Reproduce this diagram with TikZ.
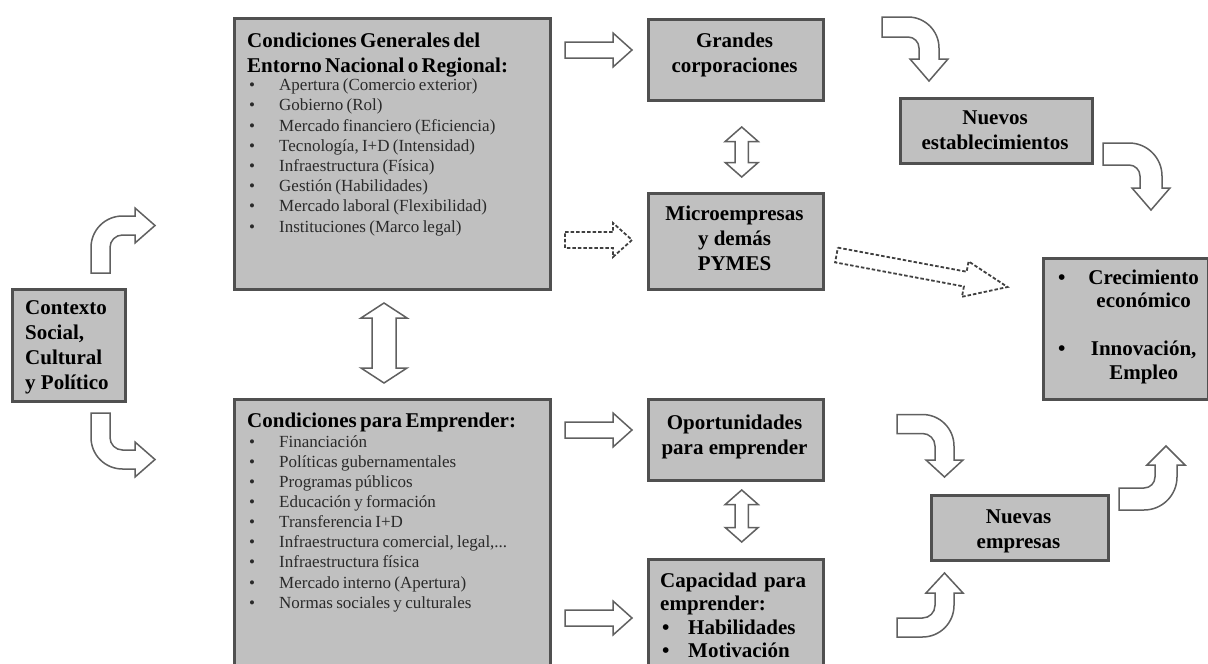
\documentclass[tikz,border=0pt]{standalone}
\usepackage{fontspec}
\setmainfont{Liberation Serif}
\usetikzlibrary{calc}
\definecolor{boxfill}{HTML}{C0C0C0}
\definecolor{boxline}{HTML}{505050}
\definecolor{arrline}{HTML}{606060}
\definecolor{dashline}{HTML}{404040}
\definecolor{itemtext}{HTML}{2A2A2A}
\newcommand\bul[1]{\makebox[#1][l]{\hspace{2pt}\textbullet}}
% #1 transform, #2 a, #3 r, #4 b, #5 h, #6 H, #7 hl
\newcommand\bentarr[7]{%
 \begin{scope}[#1]
 \draw[barrow] (0,#5) -- (#2,#5) arc[start angle=90,end angle=0,radius={#3+#5}]
   -- ({#2+#3+#5},{-#3-#4}) -- ({#2+#3+#6},{-#3-#4}) -- ({#2+#3},{-#3-#4-#7})
   -- ({#2+#3-#6},{-#3-#4}) -- ({#2+#3-#5},{-#3-#4}) -- ({#2+#3-#5},{-#3})
   arc[start angle=0,end angle=90,radius={#3-#5}] -- (0,-#5) -- cycle;
 \end{scope}}
% #1 style, #2 tail x, #3 y, #4 length
\newcommand\harr[4]{%
 \draw[#1] (#2,{#3+8}) -- ({#2+#4-19},{#3+8}) -- ({#2+#4-19},{#3+17}) -- ({#2+#4},#3)
   -- ({#2+#4-19},{#3-17}) -- ({#2+#4-19},{#3-8}) -- (#2,{#3-8}) -- cycle;}
% #1 x, #2 top tip y, #3 bottom tip y, #4 shaft half, #5 head half, #6 head length
\newcommand\vdarr[6]{%
 \draw[barrow] (#1,#2) -- ({#1+#5},{#2-#6}) -- ({#1+#4},{#2-#6}) -- ({#1+#4},{#3+#6})
   -- ({#1+#5},{#3+#6}) -- (#1,#3) -- ({#1-#5},{#3+#6}) -- ({#1-#4},{#3+#6})
   -- ({#1-#4},{#2-#6}) -- ({#1-#5},{#2-#6}) -- cycle;}
\begin{document}
\begin{tikzpicture}[x=1pt,y=1pt,
 box/.style={draw=boxline, fill=boxfill, line width=2.5pt, inner sep=0pt, anchor=north west},
 barrow/.style={draw=arrline, fill=white, line width=1.5pt, line join=miter},
 darrow/.style={draw=dashline, fill=white, line width=1.8pt, line join=miter, dash pattern=on 3.5pt off 2pt},
 ttl/.style={font=\fontsize{21}{25}\selectfont\bfseries, inner sep=0pt},
 lst/.style={inner sep=0pt, anchor=north west, align=left, text width=300pt}]
\fill[white] (0,0) rectangle (1208,-664);
\useasboundingbox (0,0) rectangle (1208,-664);

% boxes
\node[box, minimum width=113, minimum height=112] (ctx) at (11,-288) {};
\node[box, minimum width=316, minimum height=271] (gen) at (233,-17) {};
\node[box, minimum width=316, minimum height=272] (emp) at (233,-398) {};
\node[box, minimum width=175, minimum height=81] (gc) at (647,-18) {};
\node[box, minimum width=175, minimum height=96] (mic) at (647,-192) {};
\node[box, minimum width=175, minimum height=81] (opo) at (647,-398) {};
\node[box, minimum width=175, minimum height=112] (cap) at (647,-558) {};
\node[box, minimum width=192, minimum height=65] (ne) at (899,-97) {};
\node[box, minimum width=165, minimum height=141] (cre) at (1042,-257) {};
\node[box, minimum width=177, minimum height=65] (nue) at (930,-494) {};

% texts
\node[ttl, anchor=north west, align=left] (ctxt) at (25,-300.5)
  {Contexto\\Social,\\Cultural\\y Político};
\node[lst] (gent) at (247,-32.5) {%
  {\fontsize{21}{25}\selectfont\bfseries Condiciones Generales del\\Entorno Nacional o Regional:\par}
  \vspace{-1.7pt}
  {\fontsize{17}{20.2}\selectfont\color{itemtext}
  \bul{32pt}Apertura (Comercio exterior)\\
  \bul{32pt}Gobierno (Rol)\\
  \bul{32pt}Mercado financiero (Eficiencia)\\
  \bul{32pt}Tecnología, I+D (Intensidad)\\
  \bul{32pt}Infraestructura (Física)\\
  \bul{32pt}Gestión (Habilidades)\\
  \bul{32pt}Mercado laboral (Flexibilidad)\\
  \bul{32pt}Instituciones (Marco legal)\par}};
\node[lst] (empt) at (247,-412.5) {%
  {\fontsize{21}{25}\selectfont\bfseries Condiciones para Emprender:\par}
  {\fontsize{17}{20.1}\selectfont\color{itemtext}
  \bul{32pt}Financiación\\
  \bul{32pt}Políticas gubernamentales\\
  \bul{32pt}Programas públicos\\
  \bul{32pt}Educación y formación\\
  \bul{32pt}Transferencia I+D\\
  \bul{32pt}Infraestructura comercial, legal,...\\
  \bul{32pt}Infraestructura física\\
  \bul{32pt}Mercado interno (Apertura)\\
  \bul{32pt}Normas sociales y culturales\par}};
\node[ttl, anchor=north, align=center] (gct) at (734.5,-32.5) {Grandes\\corporaciones};
\node[ttl, anchor=north, align=center] (mict) at (734.5,-205.5) {Microempresas\\y demás\\PYMES};
\node[ttl, anchor=north, align=center] (opot) at (734.5,-414.5) {Oportunidades\\para emprender};
\node[lst, text width=160pt, font=\fontsize{21}{23.4}\selectfont\bfseries] (capt) at (660,-572.5)
  {Capacidad para\\emprender:\\\bul{28pt}Habilidades\\\bul{28pt}Motivación};
\node[ttl, anchor=north, align=center] (net) at (995,-110.5) {Nuevos\\establecimientos};
\node[lst, text width=150pt, font=\fontsize{21}{23.5}\selectfont\bfseries] (cret) at (1056,-269.5)
  {\bul{30pt}\makebox[115pt][c]{Crecimiento}\\\hspace*{30pt}\makebox[115pt][c]{económico}\\[24.5pt]
   \bul{30pt}\makebox[115pt][c]{Innovación,}\\\hspace*{30pt}\makebox[115pt][c]{Empleo}};
\node[ttl, anchor=north, align=center] (nuet) at (1018.5,-509.5) {Nuevas\\empresas};

% straight block arrows
\harr{barrow}{565}{-50}{67}
\harr{darrow}{565}{-240}{67}
\harr{barrow}{565}{-430}{67}
\harr{barrow}{565}{-618}{67}

% double arrows
\vdarr{741.7}{-127}{-177}{6.7}{16.5}{14.5}
\vdarr{741.7}{-490}{-542}{6.7}{16.5}{14.5}
\vdarr{384}{-303}{-383}{12}{23}{15}

% big dashed arrow
\begin{scope}[shift={(836.5,-255)}, rotate=-10.6]
 \draw[darrow] (0,7.5) -- (131,7.5) -- (131,18) -- (174,0) -- (131,-18) -- (131,-7.5) -- (0,-7.5) -- cycle;
\end{scope}

% bent arrows
\bentarr{shift={(100.5,-273)}, rotate=90}{25.5}{22}{12.5}{9.5}{17.5}{20}
\bentarr{shift={(100.5,-413)}, rotate=-90, yscale=-1}{24.5}{22}{12.5}{9.5}{17.5}{20}
\bentarr{shift={(882,-27)}}{26}{21}{11}{10}{19}{22}
\bentarr{shift={(1103,-154)}}{26}{22}{12}{11}{19}{22}
\bentarr{shift={(897,-424)}}{25.5}{22}{14}{9.5}{18.5}{17}
\bentarr{shift={(897,-627.5)}, yscale=-1}{25.5}{22}{12.5}{9.5}{18.5}{20}
\bentarr{shift={(1119,-499)}, yscale=-1}{25}{22}{12}{11}{19}{19}
\end{tikzpicture}
\end{document}
